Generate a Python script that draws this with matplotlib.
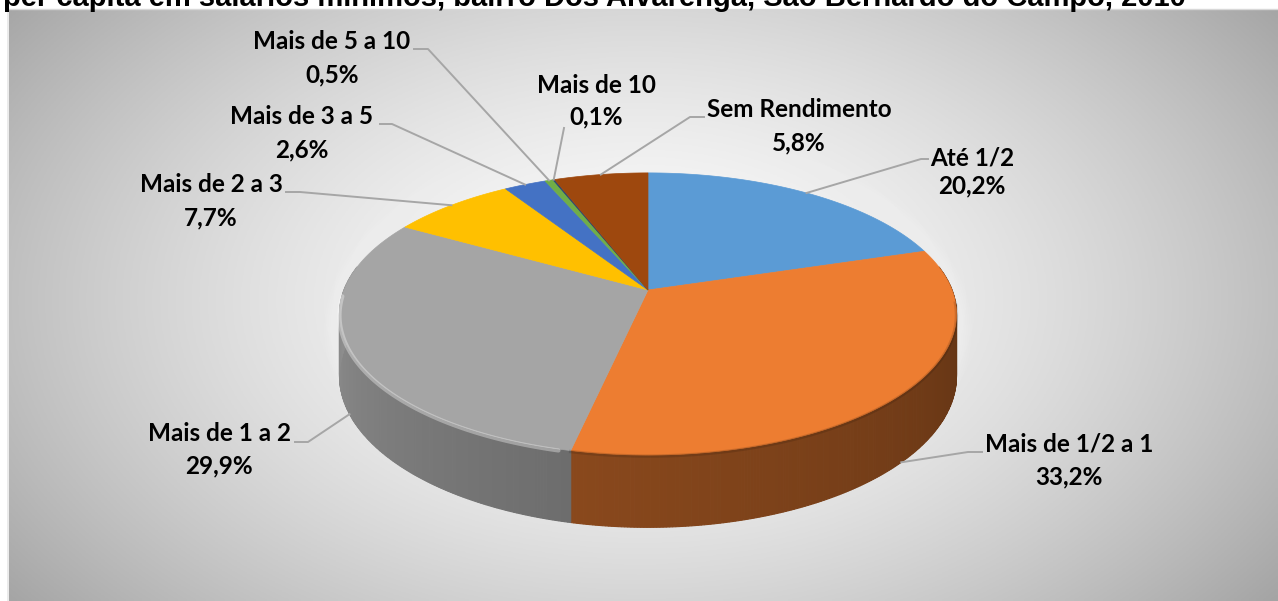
import numpy as np
import matplotlib.pyplot as plt
from matplotlib.patches import Polygon, Ellipse
from matplotlib.colors import to_rgb

# data
categories = ["Até 1/2", "Mais de 1/2 a 1", "Mais de 1 a 2", "Mais de 2 a 3",
              "Mais de 3 a 5", "Mais de 5 a 10", "Mais de 10", "Sem Rendimento"]
shares = [20.2, 33.2, 29.9, 7.7, 2.6, 0.5, 0.1, 5.8]
pct_labels = ["20,2%", "33,2%", "29,9%", "7,7%", "2,6%", "0,5%", "0,1%", "5,8%"]
title = "per capita em salários mínimos, bairro Dos Alvarenga, São Bernardo do Campo, 2010"

# style
colors = ["#5B9BD5", "#ED7D31", "#A5A5A5", "#FFC000", "#4472C4", "#70AD47", "#264478", "#9E480E"]
side_shade = [(0.45, 0.6), (0.38, 0.58), (0.66, 0.93), (0.6, 0.8), (0.6, 0.8), (0.6, 0.8), (0.6, 0.8), (0.6, 0.8)]
# label layout: text centre x, baseline line 1, baseline line 2, leader start (x, y), elbow (x, y)
label_pos = [
    (972, 165, 193, (928, 159), (921, 159)),
    (1069, 452, 484, (982, 452), (968, 452)),
    (219, 441, 473, (295, 442), (308, 442)),
    (211, 192, 225, (286, 192), (300, 192)),
    (302, 124, 157, (380, 124), (392, 124)),
    (332, 49, 82, (414, 49), (428, 49)),
    (596, 93, 124, (564, 128), (564, 128)),
    (799, 117, 150, (704, 117), (690, 117)),
]
FS = 17.5

# pie geometry (pixels) with a little perspective
CX, CY, A, B, PERSP, H = 648, 290, 304, 137, 0.17, 60


def rim(theta_deg, bottom=False):
    t = np.radians(theta_deg)
    u, z = np.sin(t), -np.cos(t)
    d = 1 - PERSP * z
    x = CX + A * u / d
    y = CY + (B * z + (H if bottom else 0)) / d
    return x, y


fig = plt.figure(figsize=(12.78, 6.01), dpi=100)
ax = fig.add_axes([0, 0, 1, 1])
ax.set_xlim(0, 1278)
ax.set_ylim(601, 0)
ax.axis("off")

# background radial gradient
gx, gy = np.meshgrid(np.linspace(9, 1278, 400), np.linspace(9, 601, 200))
r = np.sqrt(((gx - 640) / 800) ** 2 + ((gy - 300) / 500) ** 2)
val = np.clip(252 - 88 * r ** 1.6, 0, 255) / 255
ax.imshow(np.dstack([val, val, val]), extent=[9, 1278, 601, 9], aspect="auto", zorder=0)
ax.plot([8, 8], [9, 601], color="#e8e8e8", lw=1.2, zorder=1)
ax.plot([8, 1278], [8.5, 8.5], color="#d8d8d8", lw=1.0, zorder=1)

# soft glow under the pie
for k in range(10):
    ax.add_patch(Ellipse((CX, CY + 40), 2 * A + 40 - 4 * k, 2 * B + 120 - 6 * k,
                         color="white", alpha=0.05, lw=0, zorder=1))

# slice angles (clockwise from 12 o'clock)
total = sum(shares)
bounds = np.concatenate([[0], np.cumsum(shares)]) / total * 360

# sides
for i, (t0, t1) in enumerate(zip(bounds[:-1], bounds[1:])):
    a0, a1 = max(t0, 80), min(t1, 280)
    if a1 <= a0:
        continue
    base = np.array(to_rgb(colors[i]))
    lo, hi = side_shade[i]
    steps = np.linspace(a0, a1, max(int((a1 - a0) * 2), 2))
    for j in range(len(steps) - 1):
        frac = ((steps[j] + steps[j + 1]) / 2 - t0) / (t1 - t0)
        c = np.clip(base * (lo + (hi - lo) * frac), 0, 1)
        xa, ya = rim(steps[j])
        xb, yb = rim(steps[j + 1])
        xc, yc = rim(steps[j + 1], True)
        xd, yd = rim(steps[j], True)
        ax.add_patch(Polygon([(xa, ya), (xb, yb), (xc, yc), (xd, yd)], closed=True,
                             facecolor=c, edgecolor=c, lw=0.8, zorder=2))

# top faces
for i, (t0, t1) in enumerate(zip(bounds[:-1], bounds[1:])):
    th = np.linspace(t0, t1, max(int((t1 - t0) * 2), 2))
    xs, ys = rim(th)
    pts = [(CX, CY)] + list(zip(xs, ys))
    ax.add_patch(Polygon(pts, closed=True, facecolor=colors[i], edgecolor=colors[i],
                         lw=0.5, zorder=4))

# bevel: dark edge on the orange front, light edge on the grey
fr = np.linspace(95, bounds[2], 150)
fx, fy = rim(fr)
ax.plot(fx, fy + 1, color="black", alpha=0.12, lw=2.5, zorder=5)
hl = np.linspace(bounds[2] + 2, 268, 120)
hx, hy = rim(hl)
ax.plot(hx, hy + 1.5, color="white", alpha=0.35, lw=3, zorder=5, solid_capstyle="round")

# labels and leader lines
for i, cat in enumerate(categories):
    tx, ty1, ty2, p0, p1 = label_pos[i]
    mid = (bounds[i] + bounds[i + 1]) / 2
    z = -np.cos(np.radians(mid))
    ex, ey = rim(mid, bottom=z > 0.3)
    ax.plot([p0[0], p1[0], ex], [p0[1], p1[1], ey], color="#a6a6a6", lw=1.4, zorder=6)
    ax.text(tx, ty1, cat, ha="center", va="baseline", fontsize=FS, fontweight="bold",
            family="Lato", color="black", zorder=7)
    ax.text(tx, ty2, pct_labels[i], ha="center", va="baseline", fontsize=FS, fontweight="bold",
            family="Lato", color="black", zorder=7)

fig.text(3 / 1278, 1 - 6 / 601, title, ha="left", va="baseline", fontsize=21,
         fontweight="bold", family="Liberation Sans", color="black")

fig.savefig("out.png", dpi=100)
